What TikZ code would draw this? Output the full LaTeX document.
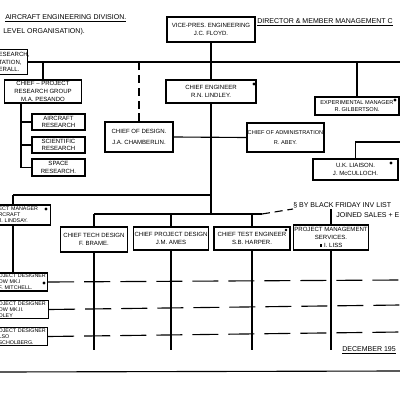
\documentclass[tikz,border=0pt]{standalone}
\usepackage{fontspec}
\setmainfont{Liberation Sans}
\usetikzlibrary{positioning}
\newcommand\pix{0.025cm}

\tikzset{
  orgbox/.style={draw, line width=0.9pt, align=center, inner sep=0.6pt, font=\fontsize{4.3}{5.4}\selectfont},
  cutbox/.style={orgbox, align=left, anchor=west, inner xsep=0.7pt},
  smalltext/.style={font=\fontsize{3.8}{4.3}\selectfont},
  note/.style={inner sep=0pt, font=\fontsize{5}{6}\selectfont},
  link/.style={line width=0.8pt},
  dashlink/.style={link, dash pattern=on 0.2cm off 0.12cm},
  rowlink/.style={link, dash pattern=on 0.65cm off 0.25cm}
}

\begin{document}
\begin{tikzpicture}[x=0.025cm, y=-0.025cm]
\fill[white] (0,0) rectangle (400,400);
\useasboundingbox (0,0) rectangle (400,400);

% headings
\node[note, anchor=west] (title) at (5,18) {\underline{AIRCRAFT ENGINEERING DIVISION.}};
\node[note, anchor=west] (subtitle) at (3,32) {LEVEL ORGANISATION).};

% top level
\node[cutbox, text width=28*\pix, minimum height=25*\pix] (oper) at (-3,62) {ESEARCH,\\TATION,\\ERALL.};
\node[orgbox, minimum width=88*\pix, minimum height=25*\pix] (vp) at (211,29.5) {VICE-PRES. ENGINEERING\\J.C. FLOYD.};
\node[note, anchor=west] (director) at (257,22.5) {\underline{DIRECTOR \& MEMBER MANAGEMENT C}};
\node[orgbox, minimum width=90*\pix, minimum height=23*\pix] (chiefeng) at (211,91.5) {CHIEF ENGINEER\\R.N. LINDLEY.};
\node[orgbox, minimum width=84*\pix, minimum height=18*\pix, font=\fontsize{4}{5.2}\selectfont] (expm) at (357,106) {EXPERIMENTAL MANAGER\\R. GILBERTSON.};

% research group
\node[orgbox, minimum width=77*\pix, minimum height=23*\pix] (research) at (43,91.5) {CHIEF -- PROJECT\\RESEARCH GROUP\\M.A. PESANDO};
\node[orgbox, minimum width=53*\pix, minimum height=16*\pix] (air) at (58.5,122) {AIRCRAFT\\RESEARCH};
\node[orgbox, minimum width=53*\pix, minimum height=16*\pix] (sci) at (58.5,145) {SCIENTIFIC\\RESEARCH};
\node[orgbox, minimum width=53*\pix, minimum height=17*\pix] (space) at (58.5,167.5) {SPACE\\RESEARCH.};

% second level
\node[orgbox, minimum width=68*\pix, minimum height=30*\pix] (design) at (139,137) {CHIEF OF DESIGN.\\[2pt]J.A. CHAMBERLIN.};
\node[orgbox, minimum width=73*\pix, minimum height=29*\pix, font=\fontsize{4}{5.2}\selectfont] (admin) at (285.5,137.5) {CHIEF OF ADMINISTRATION\\[2pt]R. ABEY.};
\node[orgbox, minimum width=85*\pix, minimum height=21*\pix] (ukl) at (355.5,169.5) {U.K. LIAISON.\\J. McCULLOCH.};

% third level
\node[cutbox, smalltext, text width=51*\pix, minimum height=20*\pix] (pma) at (-3,215) {ECT MANAGER\\RCRAFT\\J. LINDSAY.};
\node[orgbox, minimum width=67*\pix, minimum height=25*\pix] (techd) at (94,239.5) {CHIEF TECH DESIGN\\F. BRAME.};
\node[orgbox, minimum width=68*\pix, minimum height=23*\pix] (projd) at (171,238.5) {CHIEF PROJECT DESIGN\\J.M. AMES};
\node[orgbox, minimum width=76*\pix, minimum height=23*\pix] (teste) at (252,238.5) {CHIEF TEST ENGINEER\\S.B. HARPER.};
\node[orgbox, minimum width=70*\pix, minimum height=25*\pix] (pms) at (331,237.5) {PROJECT MANAGEMENT\\SERVICES.\\\rule{2pt}{2pt}\ I. LISS};
\node[note, anchor=base west] (friday) at (293,207) {\S\ BY BLACK FRIDAY INV LIST};
\node[note, anchor=base west] (joined) at (336,217) {JOINED SALES + E};

% project designers
\node[cutbox, smalltext, text width=48*\pix, minimum height=18*\pix] (des1) at (-3,282) {OJECT DESIGNER\\OW MK.I\\F. MITCHELL.};
\node[cutbox, smalltext, text width=49*\pix, minimum height=17*\pix] (des2) at (-3,309.5) {OJECT DESIGNER\\OW MK.II.\\OLEY};
\node[cutbox, smalltext, text width=48*\pix, minimum height=17*\pix] (des3) at (-3,336.5) {OJECT DESIGNER\\LSO\\SCHOLBERG.};

\node[note, anchor=west] (date) at (342,350) {\underline{DECEMBER 195}};

% free ends
\coordinate (topR) at (400,62);
\coordinate (ukR) at (400,142);
\coordinate (busL) at (13,195);
\coordinate (busM) at (211,195);
\coordinate (busN) at (211,214);
\coordinate (busE) at (262,214);
\coordinate (busD) at (293,209);
\coordinate (rbus) at (21,103);
\coordinate (foot) at (0,350);
\coordinate (rowA) at (400,280);
\coordinate (rowB) at (400,305);
\coordinate (rowC) at (400,332);
\coordinate (baseL) at (0,372);
\coordinate (baseR) at (400,371);

% connectors
\draw[link] (oper.east) -- (topR);
\draw[link] (research.north) -- (research.north |- topR);
\draw[link] (expm.north) -- (expm.north |- topR);
\draw[dashlink] (design.north) -- (design.north |- topR);
\draw[link] (vp.south) -- (chiefeng.north);
\draw[link] (chiefeng.south) -- (busN);
\draw[link] (design.east) -- (admin.west);
\draw[link] (ukl.north) |- (ukR);
\draw[link] (rbus) |- (air.west);
\draw[link] (rbus) |- (sci.west);
\draw[link] (rbus) |- (space.west);
\draw[link] (busL) -- (busM);
\draw[link] (busL) -- (busL |- pma.north);
\draw[link] (busL |- pma.south) -- (busL |- des1.north);
\draw[link] (techd.north |- busN) -- (busE);
\draw[dashlink] (busE) -- (busD);
\foreach \b in {techd, projd, teste}
  \draw[link] (\b.north) -- (\b.north |- busN);
\draw[link] (pms.north) -- (pms.north |- busD);
\foreach \b in {techd, projd, teste, pms}
  \draw[link] (\b.south) -- (\b.south |- foot);
\draw[rowlink] (des1.east) -- (rowA);
\draw[rowlink] (des2.east) -- (rowB);
\draw[rowlink] (des3.east) -- (rowC);
\draw[link] (baseL) -- (baseR);

% marks
\fill (254,84) circle (1.1pt);
\fill (395,100) circle (1.1pt);
\fill (391,163) circle (1.1pt);
\fill (286,230) circle (1pt);
\fill (46,209) circle (1.1pt);
\fill (44,283) circle (1.1pt);
\end{tikzpicture}
\end{document}
